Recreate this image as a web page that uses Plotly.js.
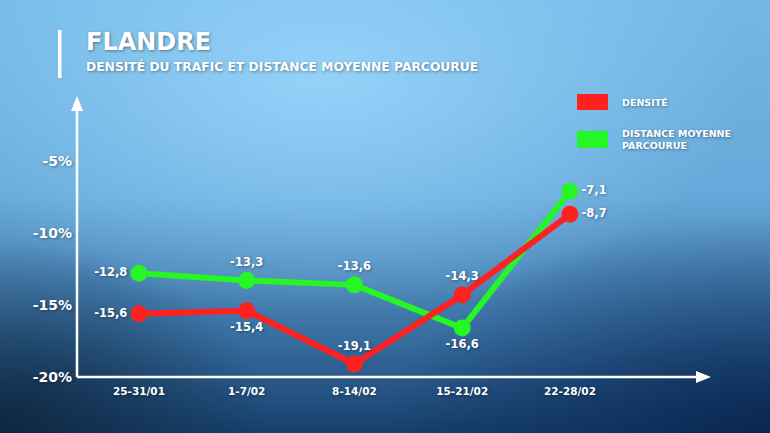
<!DOCTYPE html>
<html>
<head>
<meta charset="utf-8">
<script src="https://cdn.plot.ly/plotly-3.0.1.min.js"></script>
<style>
html,body{margin:0;padding:0;width:770px;height:433px;overflow:hidden;}
body{
background:
 radial-gradient(ellipse 55% 55% at 42% 18%, rgba(150,212,250,0.95), rgba(150,212,250,0) 100%),
 radial-gradient(ellipse 35% 45% at 0% 100%, rgba(14,38,62,0.95), rgba(14,38,62,0) 100%),
 radial-gradient(ellipse 50% 50% at 100% 100%, rgba(8,36,80,0.9), rgba(8,36,80,0) 100%),
 linear-gradient(to bottom, #74b8e6 0%, #66a8d9 45%, #376ea0 78%, #173f6c 100%);
}
#chart{width:770px;height:433px;}
</style>
</head>
<body>
<div id="chart"></div>
<script>
const categories = ['25-31/01','1-7/02','8-14/02','15-21/02','22-28/02'];
const densite = [-15.6,-15.4,-19.1,-14.3,-8.7];
const distance = [-12.8,-13.3,-13.6,-16.6,-7.1];
const densiteLabels = ['-15,6','-15,4','-19,1','-14,3','-8,7'];
const distanceLabels = ['-12,8','-13,3','-13,6','-16,6','-7,1'];
const yTickVals = [-20,-15,-10,-5];
const yTickText = ['-20%','-15%','-10%','-5%'];

const W=770,H=433, L=77, R=60, T=97, B=56;
const pw=W-L-R, ph=H-T-B;
const px = x => (x-L)/pw;
const py = y => (H-B-y)/ph;

const FONT = 'DejaVu Sans, sans-serif';
const shadow = '1px 1px 3px rgba(0,0,0,0.4)';
const RED = '#ff2020', GREEN = '#26f526';

const labelFont = {family:FONT, size:11.5, color:'white', weight:700, shadow:shadow};

const traces = [
 {x:categories, y:distance, mode:'lines+markers+text', line:{color:GREEN,width:6},
  marker:{color:GREEN,size:17}, text:distanceLabels,
  textposition:['middle left','top center','top center','bottom center','middle right'],
  textfont:labelFont, cliponaxis:false, hoverinfo:'skip'},
 {x:categories, y:densite, mode:'lines+markers+text', line:{color:RED,width:6},
  marker:{color:RED,size:17}, text:densiteLabels,
  textposition:['middle left','bottom center','top center','top center','middle right'],
  textfont:labelFont, cliponaxis:false, hoverinfo:'skip'}
];

const ann = [
 {text:'FLANDRE', x:px(84), y:py(42), xanchor:'left', yanchor:'middle', showarrow:false,
  font:{family:FONT,size:24,color:'white',weight:700,shadow:shadow}},
 {text:'DENSITÉ DU TRAFIC ET DISTANCE MOYENNE PARCOURUE', x:px(84), y:py(67), xanchor:'left', yanchor:'middle', showarrow:false,
  font:{family:FONT,size:12.3,color:'white',weight:700,shadow:shadow}},
 {text:'DENSITÉ', x:px(620), y:py(102), xanchor:'left', yanchor:'middle', showarrow:false,
  font:{family:FONT,size:9.5,color:'white',weight:700,shadow:shadow}},
 {text:'DISTANCE MOYENNE<br>PARCOURUE', x:px(620), y:py(139), xanchor:'left', yanchor:'middle', align:'left', showarrow:false,
  font:{family:FONT,size:9.5,color:'white',weight:700,shadow:shadow}}
].map(a => Object.assign({xref:'paper', yref:'paper'}, a));

const shapes = [
 {type:'rect', xref:'paper', yref:'paper', x0:px(58), x1:px(61.5), y0:py(78), y1:py(30), fillcolor:'white', line:{width:0}},
 {type:'rect', xref:'paper', yref:'paper', x0:px(577), x1:px(608), y0:py(110), y1:py(94), fillcolor:RED, line:{width:0}},
 {type:'rect', xref:'paper', yref:'paper', x0:px(577), x1:px(608), y0:py(148), y1:py(131), fillcolor:GREEN, line:{width:0}},
 {type:'line', xref:'paper', yref:'paper', x0:0, x1:0, y0:0, y1:py(108), line:{color:'white',width:2.5}},
 {type:'line', xref:'paper', yref:'paper', x0:0, x1:px(698), y0:0, y1:0, line:{color:'white',width:2.5}},
 {type:'path', xref:'paper', yref:'paper', fillcolor:'white', line:{width:0},
  path:`M ${px(71)} ${py(111)} L ${px(77)} ${py(96)} L ${px(83)} ${py(111)} Z`},
 {type:'path', xref:'paper', yref:'paper', fillcolor:'white', line:{width:0},
  path:`M ${px(696)} ${py(371)} L ${px(711)} ${py(377)} L ${px(696)} ${py(383)} Z`}
];

const layout = {
 width:W, height:H, margin:{l:L,r:R,t:T,b:B},
 paper_bgcolor:'rgba(0,0,0,0)', plot_bgcolor:'rgba(0,0,0,0)',
 showlegend:false,
 xaxis:{type:'category', range:[-0.575,5.3], showgrid:false, zeroline:false, showline:false,
  ticks:'', ticklabelstandoff:6, tickfont:{family:FONT,size:10.5,color:'white',weight:700,shadow:shadow}},
 yaxis:{range:[-20,-0.55], showgrid:false, zeroline:false, showline:false, ticks:'',
  tickvals:yTickVals, ticktext:yTickText, ticklabelstandoff:4,
  tickfont:{family:FONT,size:14,color:'white',weight:700,shadow:shadow}},
 annotations:ann, shapes:shapes
};

Plotly.newPlot('chart', traces, layout, {displayModeBar:false, staticPlot:true});
</script>
</body>
</html>
